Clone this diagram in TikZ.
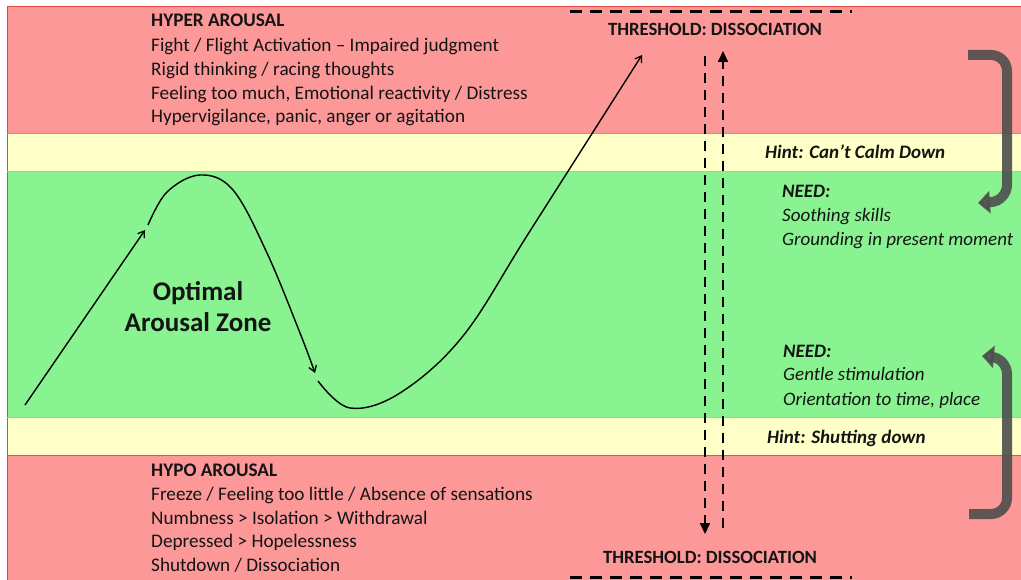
\documentclass[tikz,border=0pt]{standalone}
\usepackage{fontspec}
\setmainfont{Carlito}
\usetikzlibrary{arrows.meta}
\definecolor{bandred}{RGB}{252,152,152}
\definecolor{bandredline}{RGB}{225,70,70}
\definecolor{bandyellow}{RGB}{255,255,200}
\definecolor{bandyellowline}{RGB}{235,215,80}
\definecolor{bandgreen}{RGB}{136,243,144}
\definecolor{bandgreenline}{RGB}{150,225,90}
\definecolor{textdark}{RGB}{20,20,20}
\definecolor{bendgray}{RGB}{78,78,78}
\tikzset{
  body/.style={font=\fontsize{19.2}{24}\selectfont, text=textdark, inner sep=0pt, anchor=base west},
  hinttext/.style={font=\fontsize{19}{24}\selectfont\bfseries\itshape, text=textdark, inner sep=0pt, anchor=base west},
  needtext/.style={font=\fontsize{19}{24}\selectfont\itshape, text=textdark, inner sep=0pt, anchor=base west},
  threshtext/.style={font=\fontsize{18.7}{20}\selectfont\bfseries, text=textdark, inner sep=0pt, anchor=base},
  curvearrow/.style={line width=1.4pt, draw=black, -{Straight Barb[length=6pt,width=8pt,line width=1.3pt]}},
  vdash/.style={line width=2pt, dash pattern=on 10pt off 7pt, -{Triangle[length=11pt,width=10pt]}},
  hdash/.style={line width=3pt, dash pattern=on 12pt off 8pt},
  bendarrow/.style={line width=10pt, draw=bendgray, opacity=0.9, rounded corners=16pt, -{Triangle[length=12pt,width=22pt]}}
}
\begin{document}
\begin{tikzpicture}[x=1pt,y=-1pt]
\useasboundingbox (0,0) rectangle (1021,580);
\fill[white] (0,0) rectangle (1021,580);
% bands
\fill[bandred] (7,6) rectangle (1021,133);
\fill[bandyellow] (7,133) rectangle (1021,171);
\fill[bandgreen] (7,171) rectangle (1021,417);
\fill[bandyellow] (7,417) rectangle (1021,455);
\fill[bandred] (7,455) rectangle (1021,580);
\draw[bandredline, line width=0.8pt] (7,580) -- (7,6) -- (1021,6);
\draw[bandredline!70, line width=0.7pt] (7,133) -- (1021,133);
\draw[bandgreenline, line width=0.7pt] (7,171) -- (1021,171);
\draw[bandgreenline, line width=0.7pt] (7,417) -- (1021,417);
\draw[bandredline!80!orange, line width=0.8pt] (7,455) -- (1021,455);

% hyper arousal texts
\node[body] (hy0) at (151,27) {\textbf{HYPER AROUSAL}};
\node[body] (hy1) at (151,52) {Fight / Flight Activation -- Impaired judgment};
\node[body] (hy2) at (151,76) {Rigid thinking / racing thoughts};
\node[body] (hy3) at (151,100) {Feeling too much, Emotional reactivity / Distress};
\node[body] (hy4) at (151,123) {Hypervigilance, panic, anger or agitation};
% hypo arousal texts
\node[body] (ho0) at (151,476) {\textbf{HYPO AROUSAL}};
\node[body] (ho1) at (151,500) {Freeze / Feeling too little / Absence of sensations};
\node[body] (ho2) at (151,524) {Numbness > Isolation > Withdrawal};
\node[body] (ho3) at (151,547) {Depressed > Hopelessness};
\node[body] (ho4) at (151,571) {Shutdown / Dissociation};

\node[font=\fontsize{27}{31}\selectfont\bfseries, text=textdark, align=center, inner sep=0pt] (optimal) at (198,307) {Optimal\\Arousal Zone};

\node[hinttext] (hint1) at (765,158.5) {Hint: Can’t Calm Down};
\node[hinttext] (hint2) at (767,443) {Hint: Shutting down};
\node[needtext] (n10) at (782,198) {\textbf{NEED:}};
\node[needtext] (n11) at (782,222) {Soothing skills};
\node[needtext] (n12) at (782,246) {Grounding in present moment};
\node[needtext] (n20) at (783,358) {\textbf{NEED:}};
\node[needtext] (n21) at (783,381) {Gentle stimulation};
\node[needtext] (n22) at (783,405) {Orientation to time, place};
\node[threshtext] (thtop) at (715,36) {THRESHOLD: DISSOCIATION};
\node[threshtext] (thbot) at (710,563) {THRESHOLD: DISSOCIATION};

% threshold dashed lines
\coordinate (tl1) at (570,12); \coordinate (tl2) at (852,12);
\coordinate (bl1) at (570,577); \coordinate (bl2) at (852,577);
\draw[hdash] (tl1) -- (tl2);
\draw[hdash] (bl1) -- (bl2);

% vertical dashed arrows
\coordinate (d1s) at (705,56); \coordinate (d1e) at (705,534);
\coordinate (d2s) at (723,528); \coordinate (d2e) at (723,51);
\draw[vdash] (d1s) -- (d1e);
\draw[vdash] (d2s) -- (d2e);

% gray bent arrows
\coordinate (g1s) at (968,55); \coordinate (g1e) at (978,203);
\draw[bendarrow] (g1s) -- (1007,55) -- (1007,201) -- (g1e);
\coordinate (g2s) at (969,514); \coordinate (g2e) at (982,356);
\draw[bendarrow] (g2s) -- (1007,514) -- (1007,358) -- (g2e);

% arousal curve
\coordinate (c0) at (25,405); \coordinate (c1) at (145,230);
\draw[curvearrow] (c0) -- (c1);
\coordinate (c2) at (148,225); \coordinate (c3) at (315,373);
\draw[curvearrow] plot[smooth, tension=0.6] coordinates {(c2) (167,192) (200,175) (233,190) (267,253) (300,333) (c3)};
\coordinate (c4) at (318,381); \coordinate (c5) at (642,55);
\draw[curvearrow] plot[smooth, tension=0.6] coordinates {(c4) (350,408) (400,393) (463,336) (530,231) (c5)};
\end{tikzpicture}
\end{document}
